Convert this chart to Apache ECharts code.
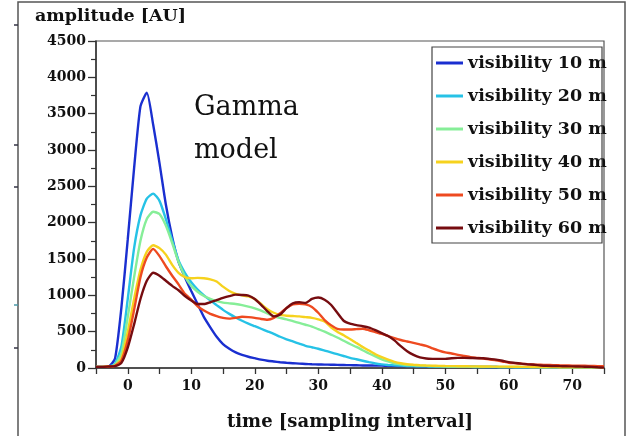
<!DOCTYPE html>
<html>
<head>
<meta charset="utf-8">
<script src="https://cdn.jsdelivr.net/npm/echarts@6/dist/echarts.min.js"></script>
<style>
  html, body { margin: 0; padding: 0; background: #fff; }
  #chart { width: 629px; height: 436px; }
</style>
</head>
<body>
<div id="chart"></div>
<script>
// time axis, one sample per sampling interval
const time = [];
for (let t = -5; t <= 75; t++) time.push(t);

const seriesNames = ['visibility 10 m', 'visibility 20 m', 'visibility 30 m',
                     'visibility 40 m', 'visibility 50 m', 'visibility 60 m'];
const seriesColors = ['#1a2fd0', '#26c2e6', '#86ee98', '#f6d21e', '#ee4a20', '#760c10'];

// amplitude [AU] per time step, from t = -5 to t = 75
const vis10 = [15, 15, 20, 130, 830, 1770, 2750, 3600, 3790, 3350,
  2820, 2250, 1800, 1460, 1250, 1060, 880, 700, 560, 430,
  330, 265, 215, 180, 155, 135, 115, 100, 90, 80,
  72, 66, 60, 56, 52, 49, 47, 45, 43, 41,
  39, 37, 35, 34, 33, 32, 30, 29, 28, 27,
  26, 25, 24, 23, 22, 21, 20, 19, 18, 17,
  16, 15, 14, 13, 12, 11, 11, 10, 10, 9,
  9, 8, 8, 7, 7, 6, 6, 6, 5, 5, 5];
const vis20 = [15, 15, 20, 60, 300, 950, 1650, 2100, 2330, 2400,
  2300, 2050, 1760, 1480, 1310, 1180, 1080, 1000, 930, 865,
  800, 745, 695, 650, 610, 575, 540, 505, 470, 430,
  395, 365, 335, 305, 285, 265, 240, 215, 190, 165,
  140, 120, 100, 80, 62, 50, 42, 36, 32, 28,
  26, 24, 22, 20, 19, 18, 17, 16, 15, 15,
  14, 14, 13, 13, 12, 12, 11, 11, 10, 10,
  9, 9, 8, 8, 7, 7, 7, 6, 6, 6, 6];
const vis30 = [15, 15, 20, 45, 200, 700, 1250, 1750, 2050, 2150,
  2120, 1960, 1720, 1460, 1260, 1130, 1050, 990, 950, 920,
  900, 890, 880, 865, 845, 820, 790, 750, 710, 690,
  670, 645, 620, 595, 570, 535, 500, 460, 420, 375,
  330, 290, 245, 200, 160, 120, 90, 65, 50, 42,
  36, 32, 29, 26, 24, 22, 21, 20, 19, 18,
  17, 16, 15, 15, 14, 14, 13, 13, 12, 12,
  11, 11, 10, 10, 9, 9, 9, 8, 8, 8, 8];
const vis40 = [15, 15, 20, 35, 130, 500, 950, 1350, 1600, 1690,
  1650, 1560, 1420, 1310, 1250, 1235, 1240, 1235, 1220, 1190,
  1120, 1060, 1020, 1000, 985, 950, 880, 810, 760, 730,
  720, 715, 710, 700, 690, 670, 640, 560, 500, 450,
  400, 345, 290, 240, 190, 150, 115, 85, 65, 52,
  44, 38, 34, 31, 29, 27, 26, 25, 24, 23,
  22, 21, 20, 19, 19, 18, 17, 16, 15, 14,
  14, 13, 12, 11, 11, 10, 10, 9, 9, 8, 8];
const vis50 = [15, 15, 20, 30, 100, 380, 800, 1250, 1520, 1640,
  1540, 1400, 1270, 1150, 1020, 940, 850, 790, 745, 715,
  690, 680, 690, 705, 700, 690, 675, 665, 690, 755,
  825, 875, 885, 875, 840, 760, 660, 590, 540, 530,
  530, 535, 540, 520, 495, 470, 440, 410, 385, 365,
  345, 325, 305, 270, 240, 215, 200, 180, 165, 150,
  140, 130, 117, 105, 90, 72, 65, 58, 52, 48,
  45, 42, 40, 37, 35, 33, 31, 30, 28, 26, 25];
const vis60 = [15, 15, 20, 25, 70, 280, 600, 950, 1200, 1310,
  1270, 1200, 1130, 1070, 990, 930, 880, 880, 905, 935,
  965, 990, 1010, 1005, 995, 950, 870, 780, 710, 735,
  825, 890, 905, 895, 950, 970, 940, 870, 760, 650,
  610, 590, 575, 555, 520, 480, 440, 380, 300, 230,
  180, 145, 130, 126, 125, 125, 135, 140, 140, 138,
  135, 135, 125, 115, 100, 80, 70, 60, 50, 45,
  35, 30, 28, 26, 24, 22, 20, 18, 15, 10, 5];

const seriesValues = [vis10, vis20, vis30, vis40, vis50, vis60];

// y-axis tick range
const yMin = 0, yMax = 4500, yStep = 500;
// x-axis tick range
const xMin = -5, xMax = 75, xStep = 5;

const boldSerif = 'DejaVu Serif';
const chart = echarts.init(document.getElementById('chart'), null, { renderer: 'canvas' });

const series = seriesNames.map((name, i) => ({
  name: name,
  type: 'line',
  data: time.map((t, k) => [t, seriesValues[i][k]]),
  showSymbol: false,
  symbol: 'none',
  smooth: 0.2,
  lineStyle: { color: seriesColors[i], width: 2.4 },
  itemStyle: { color: seriesColors[i] },
  z: 2 + i
}));

chart.setOption({
  animation: false,
  backgroundColor: '#ffffff',
  grid: {
    left: 96, top: 41, right: 25, bottom: 67.5,
    show: true, borderColor: '#555', borderWidth: 1.2, backgroundColor: 'transparent'
  },
  xAxis: {
    type: 'value', min: xMin, max: xMax, interval: xStep,
    axisLine: { show: true, onZero: false, lineStyle: { color: '#333', width: 1.5 } },
    axisTick: { show: true, inside: false, length: 6, lineStyle: { color: '#333', width: 1.3 } },
    splitLine: { show: false },
    axisLabel: {
      margin: 11,
      fontFamily: boldSerif, fontWeight: 'bold', fontSize: 14, color: '#111',
      formatter: v => (v % 10 === 0 && v >= 0 && v <= 70) ? String(v) : ''
    },
    name: 'time [sampling interval]',
    nameLocation: 'middle', nameGap: 45,
    nameTextStyle: { fontFamily: boldSerif, fontWeight: 'bold', fontSize: 18, color: '#111' }
  },
  yAxis: {
    type: 'value', min: yMin, max: yMax, interval: yStep,
    axisLine: { show: true, onZero: false, lineStyle: { color: '#333', width: 1.5 } },
    axisTick: { show: true, inside: false, length: 8, lineStyle: { color: '#333', width: 1.3 } },
    minorTick: { show: true, splitNumber: 2, length: 5, lineStyle: { color: '#333', width: 1.2 } },
    splitLine: { show: false },
    axisLabel: {
      margin: 10,
      fontFamily: boldSerif, fontWeight: 'bold', fontSize: 14, color: '#111',
      formatter: v => String(v)
    }
  },
  legend: {
    orient: 'vertical', left: 436, top: 54, padding: 0,
    icon: 'rect', itemWidth: 27, itemHeight: 3, itemGap: 15,
    textStyle: { fontFamily: boldSerif, fontWeight: 'bold', fontSize: 17.5, color: '#111', lineHeight: 18 },
    data: seriesNames
  },
  graphic: [
    // outer frame
    { type: 'rect', shape: { x: 18, y: 2, width: 607, height: 445 },
      style: { fill: 'none', stroke: '#555', lineWidth: 1.5 }, silent: true },
    // legend box
    { type: 'rect', shape: { x: 432, y: 47, width: 170, height: 196 },
      style: { fill: 'none', stroke: '#444', lineWidth: 1.2 }, silent: true, z: 10 },
    // y-axis title
    { type: 'text', left: 35, top: 7,
      style: { text: 'amplitude [AU]', font: 'bold 17.5px "DejaVu Serif"', fill: '#111' } },
    // model annotation
    { type: 'text', left: 194, top: 86,
      style: { text: 'Gamma\nmodel', font: '27px "DejaVu Serif"', lineHeight: 43, fill: '#111' } },
    // small marks on the left frame
    { type: 'line', shape: { x1: 14, y1: 25, x2: 18, y2: 25 }, style: { stroke: '#334', lineWidth: 1.5 } },
    { type: 'line', shape: { x1: 14, y1: 145, x2: 18, y2: 145 }, style: { stroke: '#334', lineWidth: 1.5 } },
    { type: 'line', shape: { x1: 14, y1: 187, x2: 18, y2: 187 }, style: { stroke: '#334', lineWidth: 1.5 } },
    { type: 'line', shape: { x1: 14, y1: 305, x2: 18, y2: 305 }, style: { stroke: '#4a9aa8', lineWidth: 1.5 } },
    { type: 'line', shape: { x1: 14, y1: 348, x2: 18, y2: 348 }, style: { stroke: '#334', lineWidth: 1.5 } }
  ],
  series: series
});
</script>
</body>
</html>
